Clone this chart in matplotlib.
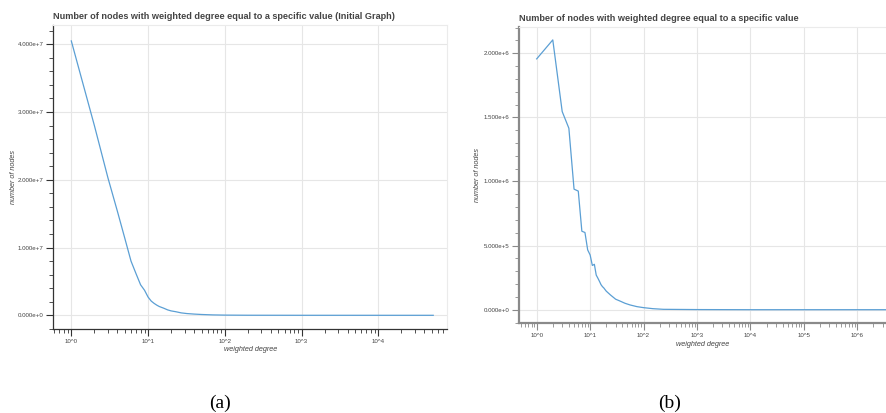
import matplotlib
matplotlib.use("Agg")
import matplotlib.pyplot as plt
from matplotlib.ticker import LogLocator, MultipleLocator, FuncFormatter, NullFormatter

plt.rcParams['font.family'] = ['Liberation Sans', 'DejaVu Sans']

# (a) initial graph: weighted degree -> number of nodes
deg_a = [1, 2, 3, 4, 5, 6, 7, 8, 9, 10, 11, 12, 13, 14, 16, 18, 20, 23, 27,
         32, 40, 50, 70, 100, 200, 1000, 10000, 52000]
nodes_a = [4.05e7, 2.80e7, 2.03e7, 1.53e7, 1.13e7, 0.80e7, 0.61e7, 0.45e7,
           0.37e7, 0.27e7, 0.21e7, 0.176e7, 0.15e7, 0.13e7, 0.105e7, 0.08e7,
           0.065e7, 0.053e7, 0.036e7, 0.026e7, 0.018e7, 0.012e7, 0.006e7,
           0.003e7, 0.001e7, 0.0002e7, 0.0, 0.0]

# (b) final graph
deg_b = [1, 2, 3, 4, 5, 6, 7, 8, 9, 10, 11, 12, 13, 14, 15, 16, 17, 18, 20,
         24, 30, 36, 45, 56, 75, 100, 150, 235, 1000, 10000, 100000, 3500000]
nodes_b = [1.956e6, 2.104e6, 1.545e6, 1.415e6, 0.94e6, 0.925e6, 0.612e6,
           0.602e6, 0.466e6, 0.427e6, 0.345e6, 0.354e6, 0.27e6, 0.245e6,
           0.22e6, 0.195e6, 0.18e6, 0.17e6, 0.145e6, 0.115e6, 0.082e6,
           0.068e6, 0.05e6, 0.037e6, 0.024e6, 0.016e6, 0.008e6, 0.003e6,
           0.001e6, 0.0, 0.0, 0.0]

titles = ["Number of nodes with weighted degree equal to a specific value (Initial Graph)",
          "Number of nodes with weighted degree equal to a specific value"]
captions = ["(a)", "(b)"]

LINE = '#5b9fd4'
TXT = '#444444'


def pow_fmt(v, pos):
    if v <= 0:
        return ''
    import math
    return "10^%d" % round(math.log10(v))


def sci_fmt(v, pos):
    if abs(v) < 1e-9:
        return "0.000e+0"
    import math
    e = int(math.floor(math.log10(abs(v))))
    m = v / 10 ** e
    return "%.3fe+%d" % (m, e)


def style_axis(ax, spine_color, spine_w):
    ax.set_xscale('log')
    ax.set_facecolor('white')
    for s in ['top', 'right']:
        ax.spines[s].set_color('#ebebeb')
        ax.spines[s].set_linewidth(0.8)
    for s in ['left', 'bottom']:
        ax.spines[s].set_color(spine_color)
        ax.spines[s].set_linewidth(spine_w)
    ax.xaxis.set_major_locator(LogLocator(base=10, numticks=20))
    ax.xaxis.set_minor_locator(LogLocator(base=10, subs=range(2, 10), numticks=50))
    ax.xaxis.set_major_formatter(FuncFormatter(pow_fmt))
    ax.xaxis.set_minor_formatter(NullFormatter())
    ax.yaxis.set_major_formatter(FuncFormatter(sci_fmt))
    ax.tick_params(which='major', direction='out', length=5, width=0.8,
                   color=spine_color, labelsize=4.4, labelcolor=TXT, pad=2)
    ax.tick_params(which='minor', direction='out', length=3, width=0.6,
                   color=spine_color)
    ax.grid(True, which='major', color='#e6e6e6', linewidth=0.8)
    ax.set_axisbelow(True)
    ax.set_xlabel("weighted degree", fontsize=5.2, style='italic', color=TXT, labelpad=2)
    ax.set_ylabel("number of nodes", fontsize=5.2, style='italic', color=TXT)


fig = plt.figure(figsize=(8.87, 4.13), dpi=100)

ax1 = fig.add_axes([0.0601, 0.2034, 0.4438, 0.7361])
ax1.plot(deg_a, nodes_a, color=LINE, linewidth=0.9)
style_axis(ax1, '#333333', 0.9)
ax1.set_xlim(0.583, 78500)
ax1.set_ylim(-0.202e7, 4.285e7)
ax1.yaxis.set_major_locator(MultipleLocator(1e7))
ax1.yaxis.set_minor_locator(MultipleLocator(2e6))
ax1.set_title(titles[0], loc='left', fontsize=6.6, fontweight='bold', color=TXT, pad=4)
ax1.yaxis.set_label_coords(-0.092, 0.5)

ax2 = fig.add_axes([0.5851, 0.2172, 0.4149, 0.7182])
ax2.plot(deg_b, nodes_b, color=LINE, linewidth=0.9)
style_axis(ax2, '#8a8a8a', 1.6)
ax2.set_xlim(0.466, 3.6e6)
ax2.set_ylim(-0.106e6, 2.207e6)
ax2.yaxis.set_major_locator(MultipleLocator(5e5))
ax2.yaxis.set_minor_locator(MultipleLocator(1e5))
ax2.set_title(titles[1], loc='left', fontsize=6.6, fontweight='bold', color=TXT, pad=4)
ax2.yaxis.set_label_coords(-0.102, 0.5)

fig.text(220 / 887, 1 - 403 / 413, captions[0], fontsize=14, family='Liberation Serif',
         ha='center', va='center', color='black')
fig.text(670 / 887, 1 - 403 / 413, captions[1], fontsize=14, family='Liberation Serif',
         ha='center', va='center', color='black')

fig.savefig("out.png", dpi=100)
